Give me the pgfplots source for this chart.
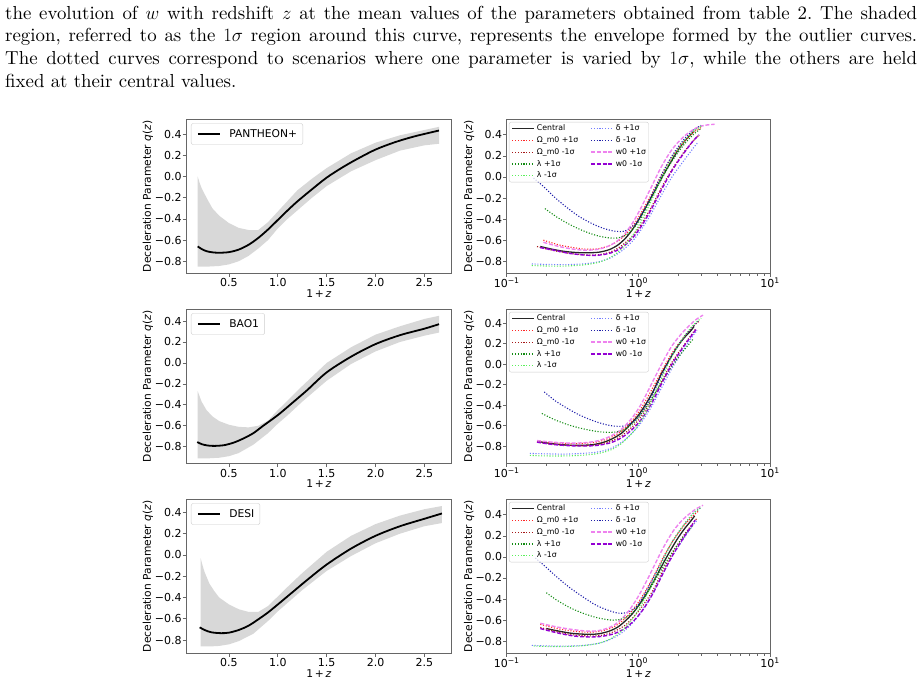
\RequirePackage{fix-cm}
\documentclass[border=0pt]{standalone}
\usepackage{fontspec}
\usepackage{pgfplots}
\pgfplotsset{compat=1.18}
\newfontfamily\dvs{DejaVu Sans}
\newfontfamily\bodyfont{lmroman10-regular.otf}[ItalicFont=lmroman10-italic.otf]

\definecolor{cOmP}{RGB}{255,40,40}
\definecolor{cOmM}{RGB}{165,25,25}
\definecolor{cLaP}{RGB}{20,140,20}
\definecolor{cLaM}{RGB}{90,240,90}
\definecolor{cDeP}{RGB}{115,125,255}
\definecolor{cDeM}{RGB}{30,30,170}
\definecolor{cWP}{RGB}{238,130,238}
\definecolor{cWM}{RGB}{148,0,211}
\definecolor{bandgray}{RGB}{216,216,216}

\pgfplotsset{
  qbase/.style={
    scale only axis, height=154.5pt,
    axis line style={black!60,line width=0.7pt},
    every tick/.style={black!60,line width=0.7pt},
    tick align=outside, major tick length=3.5pt, minor tick length=2pt,
    tick pos=left,
    ticklabel style={font=\dvs\fontsize{11}{13}\selectfont},
    label style={font=\dvs\fontsize{10.7}{12.8}\selectfont},
    ytick={-0.8,-0.6,-0.4,-0.2,0,0.2,0.4},
    yticklabels={−0.8,−0.6,−0.4,−0.2,0.0,0.2,0.4},
    yticklabel style={anchor=east, inner sep=0pt, xshift=-0.8pt},
    xticklabel style={anchor=base, inner sep=0pt, yshift=-10pt},
    ylabel={Deceleration Parameter \textit{q}(\textit{z})},
    xlabel={1\,+\,\textit{z}},
    ylabel style={at={(axis description cs:-0.143,0.5)}, anchor=center, inner sep=0pt},
    xlabel style={at={(axis description cs:0.5,0)}, anchor=north, inner sep=0pt, yshift=-15.6pt},
  },
  leftax/.style={qbase, width=265.7pt, xmin=0.06, xmax=2.78,
    xtick={0.5,1,1.5,2,2.5}, xticklabels={0.5,1.0,1.5,2.0,2.5},
    legend style={at={(axis description cs:0.0188,0.972)}, anchor=north west,
      draw=black!20, rounded corners=2pt, fill=white, inner xsep=5.7pt, inner ysep=6.6pt,
      font=\dvs\fontsize{10.7}{12.8}\selectfont,
      nodes={inner sep=0pt, text height=7.8pt, text depth=0pt},
      /tikz/every odd column/.append style={column sep=8pt}},
    legend image code/.code={\draw[##1] (0pt,0pt) -- (22.6pt,0pt);},
  },
  rightax/.style={qbase, width=263.3pt, xmin=0.1, xmax=10,
    xtick={0.1,1,10},
    xticklabels={10\textsuperscript{−1},10\textsuperscript{0},10\textsuperscript{1}},
    minor xtick={0.2,0.3,0.4,0.5,0.6,0.7,0.8,0.9,2,3,4,5,6,7,8,9},
    legend columns=2, legend cell align=left,
    legend style={at={(axis description cs:0.0087,0.981)}, anchor=north west,
      draw=black!20, rounded corners=2pt, fill=white, fill opacity=0.8, text opacity=1,
      inner xsep=2.4pt, inner ysep=2.3pt, row sep=4.1pt,
      font=\dvs\fontsize{7.8}{9}\selectfont,
      nodes={inner sep=0pt, text height=5.9pt, text depth=1.9pt},
      /tikz/every odd column/.append style={column sep=2.5pt},
      /tikz/column 2/.style={column sep=12pt}},
    legend image code/.code={\draw[##1] (0pt,0pt) -- (21.6pt,0pt);},
  },
  band/.style={fill=bandgray, draw=none, forget plot},
  cen/.style={black!85, line width=1.3pt, smooth},
  dot/.style={line width=1.1pt, dash pattern=on 1.1pt off 1.7pt, smooth},
  dsh/.style={line width=1.4pt, dash pattern=on 4pt off 1.8pt, smooth},
}

\begin{document}
\begin{tikzpicture}
\path[use as bounding box] (0,0) rectangle (919pt,-684pt);

% caption text above the figure
\begin{scope}[every node/.style={anchor=base west, inner sep=0pt,
    font=\bodyfont\fontsize{18.85}{22.6}\selectfont\frenchspacing}]
\node at (5pt,-19.3pt) {\makebox[912pt][s]{the evolution of $w$ with redshift $z$ at the mean values of the parameters obtained from table 2. The shaded}};
\node at (5pt,-42pt) {\makebox[912pt][s]{region, referred to as the $1\sigma$ region around this curve, represents the envelope formed by the outlier curves.}};
\node at (5pt,-64.7pt) {\makebox[912pt][s]{The dotted curves correspond to scenarios where one parameter is varied by $1\sigma$, while the others are held}};
\node at (5pt,-87.3pt) {fixed at their central values.};
\end{scope}

% ---------------- PANTHEON+ ----------------
\begin{axis}[leftax, at={(186pt,-119pt)}, anchor=north west, ymin=-0.916, ymax=0.544]
% 1 sigma envelope: upper edge left to right, then lower edge right to left
\addplot[band] coordinates {
 (0.18,0.00) (0.2,-0.06) (0.22,-0.11) (0.27,-0.20) (0.33,-0.30) (0.4,-0.37) (0.5,-0.44) (0.6,-0.485)
 (0.7,-0.505) (0.8,-0.505) (0.9,-0.43) (1.0,-0.33) (1.1,-0.23) (1.2,-0.13) (1.35,-0.02) (1.5,0.08)
 (1.75,0.22) (2.0,0.32) (2.25,0.39) (2.5,0.44) (2.65,0.47)
 (2.65,0.31) (2.5,0.295) (2.25,0.245) (2.0,0.155) (1.75,0.05) (1.5,-0.09) (1.35,-0.20)
 (1.25,-0.28) (1.1,-0.40) (1.0,-0.49) (0.9,-0.60) (0.8,-0.68) (0.7,-0.75) (0.6,-0.80)
 (0.5,-0.83) (0.4,-0.845) (0.3,-0.85) (0.18,-0.85)} -- cycle;
\addplot[black, line width=1.8pt, smooth] coordinates {
 (0.18,-0.66) (0.22,-0.685) (0.27,-0.705) (0.33,-0.716) (0.4,-0.72) (0.5,-0.714) (0.6,-0.69)
 (0.7,-0.645) (0.8,-0.58) (0.9,-0.50) (1.0,-0.41) (1.1,-0.32) (1.2,-0.235) (1.35,-0.12)
 (1.5,-0.01) (1.65,0.08) (1.8,0.16) (2.0,0.255) (2.2,0.325) (2.4,0.38) (2.65,0.435)};
\addlegendentry{PANTHEON+}
\end{axis}

\begin{semilogxaxis}[rightax, at={(506.7pt,-119pt)}, anchor=north west, ymin=-0.916, ymax=0.55]
\addplot[cen] coordinates {
 (0.18,-0.66) (0.22,-0.685) (0.27,-0.705) (0.33,-0.716) (0.4,-0.72) (0.5,-0.714) (0.6,-0.69)
 (0.7,-0.645) (0.8,-0.58) (0.9,-0.50) (1.0,-0.41) (1.1,-0.32) (1.2,-0.235) (1.35,-0.12)
 (1.5,-0.01) (1.65,0.08) (1.8,0.16) (2.0,0.255) (2.2,0.325) (2.4,0.38) (2.65,0.435)};
\addlegendentry{Central}
\addplot[dot, cDeP] coordinates {
 (0.155,-0.825) (0.2,-0.83) (0.28,-0.832) (0.38,-0.825) (0.5,-0.805) (0.62,-0.765) (0.75,-0.70)
 (0.9,-0.61) (1.05,-0.50) (1.25,-0.35) (1.5,-0.17) (1.8,0.0) (2.2,0.15) (2.6,0.27) (2.8,0.32)};
\addlegendentry{δ +1σ}
\addplot[dot, cOmP] coordinates {
 (0.19,-0.60) (0.25,-0.645) (0.32,-0.67) (0.4,-0.685) (0.5,-0.68) (0.62,-0.645) (0.75,-0.58)
 (0.9,-0.47) (1.05,-0.34) (1.25,-0.17) (1.5,0.02) (1.8,0.19) (2.2,0.33) (2.6,0.42) (3.0,0.47)};
\addlegendentry{Ω\_m0 +1σ}
\addplot[dot, cDeM] coordinates {
 (0.16,-0.01) (0.19,-0.09) (0.23,-0.19) (0.28,-0.28) (0.35,-0.37) (0.44,-0.44) (0.55,-0.49)
 (0.67,-0.515) (0.78,-0.515) (0.9,-0.47) (1.0,-0.41) (1.2,-0.23) (1.5,0.02) (1.8,0.20)
 (2.2,0.35) (2.6,0.44) (3.0,0.49)};
\addlegendentry{δ -1σ}
\addplot[dot, cOmM] coordinates {
 (0.17,-0.66) (0.22,-0.695) (0.3,-0.725) (0.4,-0.74) (0.5,-0.738) (0.62,-0.71) (0.75,-0.65)
 (0.9,-0.56) (1.05,-0.45) (1.25,-0.29) (1.5,-0.10) (1.8,0.07) (2.2,0.23) (2.6,0.34) (2.9,0.40)};
\addlegendentry{Ω\_m0 -1σ}
\addplot[dsh, cWP] coordinates {
 (0.19,-0.62) (0.25,-0.66) (0.32,-0.685) (0.4,-0.695) (0.5,-0.685) (0.62,-0.645) (0.75,-0.57)
 (0.9,-0.44) (1.05,-0.29) (1.25,-0.10) (1.5,0.10) (1.8,0.26) (2.2,0.38) (2.7,0.46) (3.2,0.49)
 (3.8,0.50)};
\addlegendentry{w0 +1σ}
\addplot[dot, cLaP] coordinates {
 (0.195,-0.30) (0.24,-0.38) (0.3,-0.45) (0.38,-0.51) (0.48,-0.555) (0.6,-0.578) (0.72,-0.575)
 (0.85,-0.53) (1.0,-0.43) (1.2,-0.25) (1.5,-0.02) (1.8,0.15) (2.2,0.30) (2.6,0.40) (3.0,0.46)};
\addlegendentry{λ +1σ}
\addplot[dsh, cWM] coordinates {
 (0.18,-0.67) (0.24,-0.70) (0.3,-0.725) (0.4,-0.742) (0.5,-0.742) (0.62,-0.72) (0.75,-0.67)
 (0.9,-0.58) (1.05,-0.47) (1.25,-0.31) (1.5,-0.12) (1.8,0.06) (2.2,0.22) (2.6,0.34) (2.9,0.40)};
\addlegendentry{w0 -1σ}
\addplot[dot, cLaM] coordinates {
 (0.155,-0.84) (0.2,-0.845) (0.28,-0.845) (0.38,-0.835) (0.5,-0.81) (0.62,-0.76) (0.75,-0.68)
 (0.9,-0.56) (1.05,-0.42) (1.25,-0.23) (1.5,-0.01) (1.8,0.18) (2.2,0.33) (2.6,0.43) (3.0,0.48)};
\addlegendentry{λ -1σ}
\end{semilogxaxis}

% ---------------- BAO1 ----------------
\begin{axis}[leftax, at={(186pt,-309pt)}, anchor=north west, ymin=-0.96, ymax=0.515]
\addplot[band] coordinates {
 (0.18,-0.27) (0.2,-0.32) (0.22,-0.37) (0.27,-0.45) (0.33,-0.51) (0.4,-0.555) (0.5,-0.59)
 (0.6,-0.61) (0.7,-0.615) (0.8,-0.60) (0.9,-0.55) (1.0,-0.45) (1.1,-0.36) (1.25,-0.22)
 (1.5,0.0) (1.75,0.15) (2.0,0.27) (2.25,0.35) (2.5,0.42) (2.65,0.45)
 (2.65,0.29) (2.5,0.26) (2.25,0.20) (2.0,0.11) (1.75,-0.01) (1.5,-0.17) (1.25,-0.37)
 (1.1,-0.50) (1.0,-0.58) (0.9,-0.67) (0.75,-0.78) (0.6,-0.86) (0.5,-0.89) (0.4,-0.905)
 (0.3,-0.91) (0.18,-0.91)} -- cycle;
\addplot[black, line width=1.8pt, smooth] coordinates {
 (0.175,-0.755) (0.22,-0.775) (0.28,-0.788) (0.35,-0.792) (0.45,-0.785) (0.55,-0.76)
 (0.65,-0.72) (0.75,-0.67) (0.85,-0.60) (1.0,-0.498) (1.15,-0.38) (1.3,-0.26) (1.5,-0.09)
 (1.75,0.06) (2.0,0.18) (2.25,0.265) (2.5,0.327) (2.65,0.37)};
\addlegendentry{BAO1}
\end{axis}

\begin{semilogxaxis}[rightax, at={(506.7pt,-309pt)}, anchor=north west, ymin=-0.969, ymax=0.54]
\addplot[cen] coordinates {
 (0.175,-0.755) (0.22,-0.775) (0.28,-0.788) (0.35,-0.792) (0.45,-0.785) (0.55,-0.76)
 (0.65,-0.72) (0.75,-0.67) (0.85,-0.60) (1.0,-0.498) (1.15,-0.38) (1.3,-0.26) (1.5,-0.09)
 (1.75,0.06) (2.0,0.18) (2.25,0.265) (2.5,0.327) (2.65,0.37)};
\addlegendentry{Central}
\addplot[dot, cDeP] coordinates {
 (0.15,-0.87) (0.2,-0.875) (0.28,-0.877) (0.38,-0.87) (0.5,-0.855) (0.62,-0.82) (0.75,-0.76)
 (0.9,-0.67) (1.05,-0.57) (1.25,-0.42) (1.5,-0.23) (1.8,-0.04) (2.2,0.14) (2.6,0.28) (2.8,0.33)};
\addlegendentry{δ +1σ}
\addplot[dot, cOmP] coordinates {
 (0.17,-0.75) (0.22,-0.765) (0.3,-0.775) (0.4,-0.772) (0.5,-0.755) (0.62,-0.715) (0.75,-0.65)
 (0.9,-0.55) (1.05,-0.43) (1.25,-0.26) (1.5,-0.07) (1.8,0.11) (2.2,0.26) (2.6,0.37) (2.9,0.42)};
\addlegendentry{Ω\_m0 +1σ}
\addplot[dot, cDeM] coordinates {
 (0.193,-0.27) (0.23,-0.35) (0.28,-0.42) (0.35,-0.49) (0.44,-0.545) (0.55,-0.585) (0.67,-0.605)
 (0.8,-0.60) (0.92,-0.56) (1.05,-0.48) (1.25,-0.32) (1.5,-0.11) (1.8,0.09) (2.2,0.26)
 (2.6,0.37) (2.9,0.43)};
\addlegendentry{δ -1σ}
\addplot[dot, cOmM] coordinates {
 (0.17,-0.76) (0.22,-0.78) (0.3,-0.792) (0.4,-0.795) (0.5,-0.782) (0.62,-0.75) (0.75,-0.695)
 (0.9,-0.61) (1.05,-0.51) (1.25,-0.36) (1.5,-0.17) (1.8,0.02) (2.2,0.18) (2.6,0.31) (2.75,0.35)};
\addlegendentry{Ω\_m0 -1σ}
\addplot[dsh, cWP] coordinates {
 (0.17,-0.745) (0.22,-0.76) (0.3,-0.77) (0.4,-0.765) (0.5,-0.745) (0.62,-0.70) (0.75,-0.63)
 (0.9,-0.52) (1.05,-0.39) (1.25,-0.20) (1.5,0.0) (1.8,0.18) (2.2,0.32) (2.7,0.43) (3.1,0.48)};
\addlegendentry{w0 +1σ}
\addplot[dot, cLaP] coordinates {
 (0.185,-0.48) (0.23,-0.54) (0.3,-0.595) (0.38,-0.63) (0.48,-0.655) (0.6,-0.665) (0.72,-0.655)
 (0.85,-0.61) (1.0,-0.52) (1.2,-0.38) (1.5,-0.18) (1.8,-0.02) (2.1,0.10) (2.4,0.19) (2.6,0.245)};
\addlegendentry{λ +1σ}
\addplot[dsh, cWM] coordinates {
 (0.17,-0.76) (0.22,-0.782) (0.3,-0.795) (0.4,-0.798) (0.5,-0.79) (0.62,-0.765) (0.75,-0.715)
 (0.9,-0.635) (1.05,-0.54) (1.25,-0.39) (1.5,-0.19) (1.8,0.0) (2.2,0.17) (2.6,0.30) (2.75,0.34)};
\addlegendentry{w0 -1σ}
\addplot[dot, cLaM] coordinates {
 (0.15,-0.89) (0.2,-0.895) (0.28,-0.895) (0.38,-0.888) (0.5,-0.87) (0.62,-0.835) (0.75,-0.77)
 (0.9,-0.67) (1.05,-0.55) (1.25,-0.37) (1.5,-0.14) (1.8,0.08) (2.2,0.26) (2.6,0.38) (3.0,0.45)};
\addlegendentry{λ -1σ}
\end{semilogxaxis}

% ---------------- DESI ----------------
\begin{axis}[leftax, at={(186pt,-499pt)}, anchor=north west, ymin=-0.926, ymax=0.526]
\addplot[band] coordinates {
 (0.21,-0.03) (0.23,-0.10) (0.25,-0.16) (0.3,-0.27) (0.35,-0.34) (0.4,-0.40) (0.5,-0.465)
 (0.6,-0.51) (0.7,-0.535) (0.8,-0.535) (0.9,-0.48) (1.0,-0.39) (1.1,-0.30) (1.25,-0.17)
 (1.5,0.03) (1.75,0.18) (2.0,0.29) (2.25,0.37) (2.5,0.43) (2.68,0.46)
 (2.68,0.30) (2.5,0.27) (2.25,0.20) (2.0,0.11) (1.75,-0.01) (1.5,-0.15) (1.25,-0.33)
 (1.1,-0.45) (1.0,-0.53) (0.9,-0.62) (0.75,-0.74) (0.6,-0.81) (0.5,-0.84) (0.4,-0.855)
 (0.3,-0.86) (0.21,-0.86)} -- cycle;
\addplot[black, line width=1.8pt, smooth] coordinates {
 (0.2,-0.68) (0.25,-0.705) (0.32,-0.727) (0.42,-0.735) (0.5,-0.73) (0.6,-0.705) (0.7,-0.665)
 (0.8,-0.605) (0.9,-0.54) (1.0,-0.465) (1.15,-0.35) (1.3,-0.235) (1.5,-0.09) (1.75,0.06)
 (2.0,0.18) (2.25,0.27) (2.5,0.34) (2.68,0.39)};
\addlegendentry{DESI}
\end{axis}

\begin{semilogxaxis}[rightax, at={(506.7pt,-499pt)}, anchor=north west, ymin=-0.917, ymax=0.55]
\addplot[cen] coordinates {
 (0.2,-0.68) (0.25,-0.705) (0.32,-0.727) (0.42,-0.735) (0.5,-0.73) (0.6,-0.705) (0.7,-0.665)
 (0.8,-0.605) (0.9,-0.54) (1.0,-0.465) (1.15,-0.35) (1.3,-0.235) (1.5,-0.09) (1.75,0.06)
 (2.0,0.18) (2.25,0.27) (2.5,0.34) (2.68,0.39)};
\addlegendentry{Central}
\addplot[dot, cDeP] coordinates {
 (0.155,-0.84) (0.2,-0.845) (0.28,-0.847) (0.38,-0.84) (0.5,-0.82) (0.62,-0.78) (0.75,-0.72)
 (0.9,-0.63) (1.05,-0.52) (1.25,-0.37) (1.5,-0.18) (1.8,0.0) (2.2,0.17) (2.6,0.30) (2.8,0.35)};
\addlegendentry{δ +1σ}
\addplot[dot, cOmP] coordinates {
 (0.18,-0.64) (0.24,-0.68) (0.32,-0.705) (0.42,-0.715) (0.52,-0.705) (0.65,-0.665) (0.8,-0.58)
 (0.95,-0.47) (1.1,-0.35) (1.3,-0.19) (1.55,0.0) (1.85,0.16) (2.2,0.29) (2.6,0.39) (2.9,0.44)};
\addlegendentry{Ω\_m0 +1σ}
\addplot[dot, cDeM] coordinates {
 (0.165,-0.01) (0.2,-0.10) (0.24,-0.19) (0.3,-0.29) (0.38,-0.38) (0.48,-0.46) (0.6,-0.51)
 (0.72,-0.535) (0.85,-0.52) (1.0,-0.45) (1.2,-0.28) (1.5,-0.05) (1.8,0.14) (2.2,0.30)
 (2.6,0.41) (3.0,0.47)};
\addlegendentry{δ -1σ}
\addplot[dot, cOmM] coordinates {
 (0.18,-0.67) (0.24,-0.71) (0.32,-0.74) (0.42,-0.75) (0.52,-0.745) (0.65,-0.71) (0.8,-0.645)
 (0.95,-0.55) (1.1,-0.45) (1.3,-0.31) (1.55,-0.12) (1.85,0.05) (2.2,0.20) (2.6,0.32) (2.8,0.37)};
\addlegendentry{Ω\_m0 -1σ}
\addplot[dsh, cWP] coordinates {
 (0.18,-0.63) (0.24,-0.665) (0.32,-0.69) (0.42,-0.705) (0.52,-0.695) (0.65,-0.65) (0.8,-0.55)
 (0.95,-0.42) (1.1,-0.28) (1.3,-0.10) (1.55,0.09) (1.85,0.25) (2.2,0.36) (2.7,0.45) (3.1,0.49)};
\addlegendentry{w0 +1σ}
\addplot[dot, cLaP] coordinates {
 (0.2,-0.34) (0.24,-0.41) (0.3,-0.48) (0.38,-0.535) (0.48,-0.575) (0.6,-0.598) (0.72,-0.595)
 (0.85,-0.555) (1.0,-0.47) (1.2,-0.32) (1.5,-0.12) (1.8,0.04) (2.1,0.16) (2.4,0.25) (2.6,0.30)};
\addlegendentry{λ +1σ}
\addplot[dsh, cWM] coordinates {
 (0.18,-0.68) (0.24,-0.72) (0.32,-0.75) (0.42,-0.76) (0.52,-0.755) (0.65,-0.73) (0.8,-0.675)
 (0.95,-0.59) (1.1,-0.49) (1.3,-0.34) (1.55,-0.15) (1.85,0.03) (2.2,0.18) (2.55,0.30) (2.7,0.35)};
\addlegendentry{w0 -1σ}
\addplot[dot, cLaM] coordinates {
 (0.16,-0.845) (0.2,-0.85) (0.28,-0.85) (0.38,-0.843) (0.5,-0.82) (0.62,-0.775) (0.75,-0.70)
 (0.9,-0.59) (1.05,-0.46) (1.25,-0.28) (1.5,-0.06) (1.8,0.14) (2.2,0.30) (2.6,0.41) (3.0,0.47)};
\addlegendentry{λ -1σ}
\end{semilogxaxis}
\end{tikzpicture}
\end{document}
